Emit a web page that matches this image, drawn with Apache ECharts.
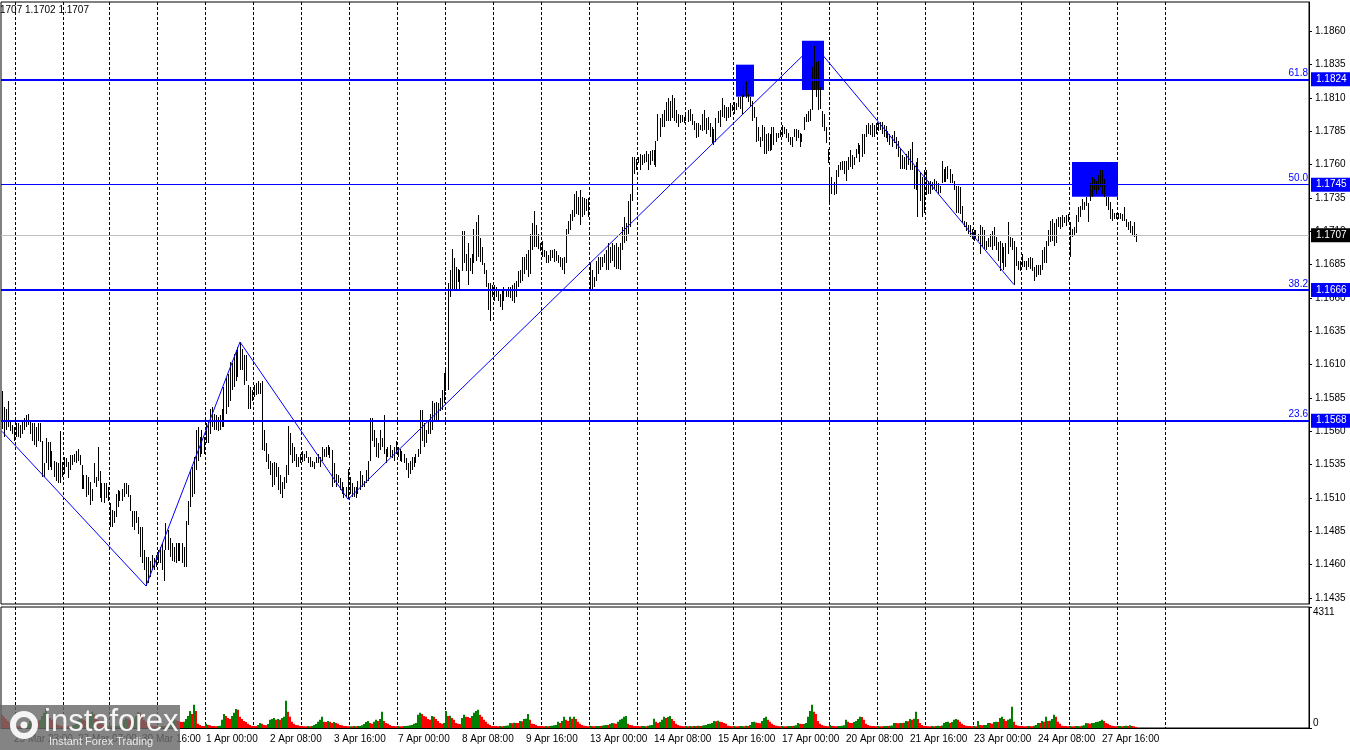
<!DOCTYPE html>
<html><head><meta charset="utf-8">
<script src="https://cdn.jsdelivr.net/npm/echarts@6/dist/echarts.min.js"></script>
<style>html,body{margin:0;padding:0;background:#fff}#c{width:1350px;height:750px}</style>
</head><body><div id="c"></div>
<script>
// ---- trading sessions (day, first hour, end hour) for H1 categories ----
const sessionDays = [
  ['25 Mar',17,24],['26 Mar',0,24],['27 Mar',0,23],['30 Mar',0,24],['31 Mar',0,24],['1 Apr',0,24],['2 Apr',0,24],['3 Apr',0,24],
  ['6 Apr',0,24],['7 Apr',0,24],['8 Apr',0,24],['9 Apr',0,24],['10 Apr',0,24],['13 Apr',0,24],['14 Apr',0,24],['15 Apr',0,24],
  ['16 Apr',0,24],['17 Apr',0,24],['20 Apr',0,24],['21 Apr',0,24],['22 Apr',0,24],['23 Apr',0,24],['24 Apr',0,24],['27 Apr',0,24],
  ['28 Apr',0,24],['29 Apr',0,24],['30 Apr',0,24],['1 May',0,24]
];
const separatorDays = ['26 Mar','27 Mar','30 Mar','31 Mar','1 Apr','2 Apr','3 Apr','6 Apr','7 Apr','8 Apr','9 Apr','10 Apr',
  '13 Apr','14 Apr','15 Apr','16 Apr','17 Apr','20 Apr','21 Apr','22 Apr','23 Apr','24 Apr','27 Apr','28 Apr','29 Apr'];
const dateLabels = ['25 Mar 23:00','27 Mar 07:00','30 Mar 16:00','1 Apr 00:00','2 Apr 08:00','3 Apr 16:00','7 Apr 00:00','8 Apr 08:00',
  '9 Apr 16:00','13 Apr 00:00','14 Apr 08:00','15 Apr 16:00','17 Apr 00:00','20 Apr 08:00','21 Apr 16:00','23 Apr 00:00','24 Apr 08:00','27 Apr 16:00'];

// ---- H1 bar highs / lows ----
const highs = [
1.1590,1.1578,1.1577,1.1583,1.1568,1.1565,1.1563,1.1566,1.1566,1.1565,1.1567,1.1570,1.1572,1.1573,1.1567,1.1566,1.1566,1.1563,1.1566,1.1566,
1.1553,1.1536,1.1555,1.1552,1.1552,1.1545,1.1538,1.1537,1.1536,1.1560,1.1537,1.1541,1.1540,1.1537,1.1542,1.1542,1.1543,1.1545,1.1547,1.1542,
1.1535,1.1527,1.1527,1.1526,1.1522,1.1517,1.1536,1.1526,1.1548,1.1530,1.1521,1.1521,1.1521,1.1518,1.1506,1.1501,1.1500,1.1513,1.1516,1.1515,
1.1517,1.1521,1.1521,1.1520,1.1512,1.1500,1.1500,1.1500,1.1496,1.1488,1.1488,1.1471,1.1466,1.1466,1.1463,1.1467,1.1465,1.1467,1.1471,1.1473,
1.1476,1.1471,1.1491,1.1486,1.1480,1.1476,1.1473,1.1476,1.1476,1.1476,1.1476,1.1473,1.1493,1.1508,1.1531,1.1533,1.1541,1.1561,1.1563,1.1556,
1.1561,1.1556,1.1566,1.1568,1.1577,1.1578,1.1573,1.1572,1.1571,1.1572,1.1577,1.1593,1.1600,1.1603,1.1612,1.1611,1.1618,1.1621,1.1623,1.1627,
1.1622,1.1617,1.1617,1.1595,1.1593,1.1591,1.1595,1.1596,1.1598,1.1596,1.1598,1.1561,1.1551,1.1543,1.1538,1.1536,1.1537,1.1536,1.1533,1.1527,
1.1522,1.1526,1.1535,1.1564,1.1559,
1.1551,1.1548,1.1543,1.1541,1.1543,1.1545,1.1543,1.1545,1.1541,1.1541,1.1538,1.1537,1.1541,1.1543,1.1541,1.1548,1.1547,1.1548,1.1550,1.1548,
1.1546,1.1536,1.1528,1.1527,1.1525,1.1522,1.1518,1.1518,1.1532,1.1526,1.1521,1.1518,1.1518,1.1523,1.1530,1.1527,1.1523,1.1531,1.1538,1.1570,
1.1570,1.1561,1.1555,1.1551,1.1561,1.1555,1.1572,1.1547,1.1548,1.1550,1.1546,1.1548,1.1553,1.1548,1.1547,1.1545,1.1543,1.1540,1.1536,1.1538,
1.1541,1.1541,1.1543,1.1547,1.1576,1.1576,1.1566,1.1561,1.1568,1.1573,1.1583,1.1581,1.1582,1.1581,1.1585,1.1591,1.1604,1.1606,1.1671,1.1681,
1.1697,1.1690,1.1683,1.1682,1.1681,1.1710,1.1710,1.1693,1.1701,1.1690,1.1693,1.1712,1.1717,1.1722,1.1705,1.1698,1.1686,1.1681,1.1671,1.1671,
1.1670,1.1670,1.1668,1.1666,1.1663,1.1666,1.1668,1.1667,1.1668,1.1668,1.1670,1.1671,1.1673,1.1680,1.1681,1.1691,1.1691,1.1693,1.1696,1.1708,
1.1716,1.1725,1.1715,1.1708,1.1701,1.1703,1.1696,1.1695,1.1692,1.1696,1.1696,1.1697,1.1695,1.1692,1.1691,1.1690,1.1691,1.1712,1.1718,1.1723,
1.1726,
1.1738,1.1740,1.1736,1.1741,1.1736,1.1735,1.1734,1.1735,
1.1686,1.1681,1.1676,1.1688,1.1691,1.1691,1.1691,1.1693,1.1696,1.1701,1.1698,1.1701,1.1700,1.1701,1.1698,1.1701,1.1713,1.1721,1.1716,1.1733,
1.1738,1.1766,1.1766,1.1764,1.1766,1.1768,1.1767,1.1768,1.1770,1.1768,1.1770,1.1771,1.1771,1.1778,1.1798,1.1795,1.1798,1.1801,1.1807,1.1810,
1.1808,1.1812,1.1810,1.1801,1.1798,1.1797,1.1797,1.1796,1.1798,1.1801,1.1802,1.1798,1.1793,1.1791,1.1791,1.1790,1.1798,1.1801,1.1795,1.1796,
1.1791,1.1788,1.1787,1.1795,1.1800,1.1801,1.1810,1.1805,1.1803,1.1803,1.1806,1.1805,1.1807,1.1806,1.1811,1.1811,1.1812,1.1819,1.1824,1.1813,
1.1811,1.1808,1.1803,1.1796,1.1788,1.1781,1.1790,1.1788,1.1783,1.1784,1.1783,1.1788,1.1788,1.1784,1.1784,1.1786,1.1790,1.1788,1.1787,1.1784,
1.1781,1.1781,1.1787,1.1787,1.1786,1.1784,1.1783,1.1796,1.1798,1.1800,1.1802,1.1833,1.1850,1.1837,1.1838,1.1818,1.1800,1.1798,1.1788,1.1772,
1.1756,1.1751,1.1747,1.1756,1.1760,1.1762,1.1763,1.1763,1.1763,1.1766,1.1771,1.1767,1.1766,1.1772,1.1776,1.1775,1.1783,1.1783,1.1790,1.1791,
1.1790,1.1791,1.1790,1.1791,1.1791,1.1792,
1.1792,1.1790,1.1789,1.1785,1.1783,1.1782,1.1785,1.1781,1.1778,1.1772,1.1767,1.1766,1.1768,1.1770,1.1772,1.1777,1.1759,1.1762,1.1765,1.1754,
1.1751,1.1756,1.1756,1.1748,1.1748,1.1747,1.1749,1.1748,1.1746,1.1744,1.1763,1.1757,1.1758,1.1759,1.1757,1.1753,1.1748,1.1744,1.1744,1.1743,
1.1729,1.1718,1.1717,1.1715,1.1715,1.1712,1.1711,1.1711,1.1708,1.1715,1.1713,1.1711,1.1703,1.1705,1.1708,1.1710,1.1713,1.1706,1.1702,1.1703,
1.1701,1.1698,1.1701,1.1717,1.1706,1.1705,1.1703,1.1698,1.1688,1.1688,1.1693,1.1688,1.1688,1.1690,1.1691,1.1690,1.1683,1.1685,1.1685,1.1685,
1.1696,1.1698,1.1703,1.1711,1.1718,1.1719,1.1716,1.1719,1.1721,1.1721,1.1722,1.1721,1.1722,1.1723,1.1717,1.1712,1.1713,1.1722,1.1728,1.1729,
1.1734,1.1732,1.1736,1.1731,1.1746,1.1751,1.1749,1.1748,1.1752,1.1756,1.1756,1.1749,1.1736,1.1736,1.1732,1.1727,1.1724,1.1724,1.1724,1.1724,
1.1723,1.1728,1.1719,1.1717,1.1718,1.1714,1.1717,1.1708
];
const lows = [
1.1562,1.1556,1.1561,1.1563,1.1560,1.1558,1.1553,1.1556,1.1556,1.1555,1.1558,1.1561,1.1563,1.1565,1.1558,1.1553,1.1550,1.1548,1.1553,1.1552,
1.1526,1.1526,1.1536,1.1531,1.1533,1.1531,1.1526,1.1523,1.1521,1.1521,1.1526,1.1528,1.1533,1.1525,1.1531,1.1535,1.1537,1.1536,1.1538,1.1535,
1.1517,1.1517,1.1511,1.1512,1.1505,1.1508,1.1521,1.1518,1.1523,1.1510,1.1507,1.1506,1.1510,1.1508,1.1488,1.1488,1.1491,1.1496,1.1503,1.1508,
1.1508,1.1511,1.1513,1.1511,1.1500,1.1488,1.1486,1.1491,1.1483,1.1466,1.1461,1.1456,1.1444,1.1446,1.1451,1.1456,1.1456,1.1458,1.1461,1.1461,
1.1456,1.1448,1.1471,1.1471,1.1466,1.1463,1.1462,1.1461,1.1463,1.1463,1.1461,1.1458,1.1458,1.1490,1.1503,1.1511,1.1513,1.1531,1.1538,1.1541,
1.1543,1.1543,1.1551,1.1551,1.1558,1.1563,1.1561,1.1561,1.1560,1.1561,1.1563,1.1563,1.1573,1.1578,1.1583,1.1591,1.1593,1.1598,1.1601,1.1606,
1.1606,1.1595,1.1598,1.1577,1.1577,1.1583,1.1586,1.1587,1.1588,1.1588,1.1546,1.1545,1.1537,1.1532,1.1527,1.1518,1.1520,1.1526,1.1516,1.1513,
1.1510,1.1517,1.1521,1.1527,1.1542,
1.1536,1.1538,1.1533,1.1533,1.1536,1.1537,1.1538,1.1540,1.1536,1.1533,1.1533,1.1532,1.1536,1.1536,1.1533,1.1538,1.1541,1.1541,1.1542,1.1540,
1.1518,1.1521,1.1518,1.1521,1.1516,1.1513,1.1510,1.1511,1.1509,1.1513,1.1511,1.1511,1.1510,1.1513,1.1516,1.1518,1.1518,1.1521,1.1523,1.1538,
1.1553,1.1548,1.1541,1.1540,1.1546,1.1548,1.1543,1.1536,1.1541,1.1541,1.1540,1.1538,1.1543,1.1541,1.1538,1.1537,1.1536,1.1531,1.1525,1.1528,
1.1531,1.1533,1.1536,1.1541,1.1543,1.1553,1.1548,1.1551,1.1558,1.1558,1.1561,1.1567,1.1567,1.1568,1.1575,1.1576,1.1581,1.1590,1.1591,1.1661,
1.1666,1.1667,1.1666,1.1672,1.1667,1.1680,1.1686,1.1680,1.1670,1.1680,1.1678,1.1686,1.1688,1.1691,1.1687,1.1685,1.1678,1.1668,1.1651,1.1643,
1.1661,1.1658,1.1661,1.1658,1.1653,1.1651,1.1658,1.1661,1.1661,1.1660,1.1658,1.1656,1.1661,1.1668,1.1671,1.1673,1.1678,1.1681,1.1676,1.1678,
1.1696,1.1698,1.1698,1.1697,1.1695,1.1691,1.1691,1.1686,1.1686,1.1688,1.1690,1.1687,1.1688,1.1686,1.1683,1.1681,1.1678,1.1686,1.1708,1.1711,
1.1718,
1.1721,1.1723,1.1722,1.1715,1.1721,1.1722,1.1725,1.1721,
1.1666,1.1666,1.1668,1.1673,1.1678,1.1681,1.1683,1.1686,1.1681,1.1681,1.1686,1.1688,1.1683,1.1682,1.1682,1.1681,1.1696,1.1701,1.1703,1.1708,
1.1713,1.1733,1.1753,1.1756,1.1761,1.1756,1.1760,1.1761,1.1762,1.1756,1.1760,1.1763,1.1760,1.1758,1.1778,1.1781,1.1788,1.1788,1.1793,1.1793,
1.1793,1.1795,1.1793,1.1791,1.1788,1.1791,1.1792,1.1791,1.1793,1.1792,1.1793,1.1790,1.1786,1.1780,1.1781,1.1786,1.1785,1.1786,1.1783,1.1786,
1.1781,1.1776,1.1775,1.1777,1.1791,1.1788,1.1796,1.1795,1.1793,1.1795,1.1796,1.1800,1.1798,1.1801,1.1803,1.1802,1.1798,1.1811,1.1810,1.1807,
1.1803,1.1793,1.1795,1.1777,1.1778,1.1773,1.1778,1.1768,1.1768,1.1770,1.1770,1.1771,1.1775,1.1777,1.1780,1.1781,1.1781,1.1783,1.1780,1.1777,
1.1775,1.1773,1.1781,1.1778,1.1780,1.1773,1.1777,1.1786,1.1792,1.1792,1.1793,1.1801,1.1816,1.1811,1.1801,1.1802,1.1788,1.1785,1.1776,1.1761,
1.1731,1.1738,1.1737,1.1738,1.1751,1.1756,1.1756,1.1753,1.1748,1.1756,1.1758,1.1757,1.1760,1.1765,1.1768,1.1762,1.1766,1.1768,1.1781,1.1783,
1.1782,1.1781,1.1781,1.1783,1.1785,1.1786,
1.1783,1.1781,1.1780,1.1777,1.1775,1.1773,1.1776,1.1772,1.1766,1.1757,1.1757,1.1757,1.1756,1.1760,1.1756,1.1756,1.1742,1.1741,1.1721,1.1733,
1.1721,1.1724,1.1737,1.1738,1.1738,1.1741,1.1742,1.1740,1.1738,1.1739,1.1746,1.1747,1.1747,1.1749,1.1746,1.1746,1.1741,1.1724,1.1724,1.1723,
1.1716,1.1713,1.1710,1.1708,1.1706,1.1704,1.1703,1.1704,1.1703,1.1693,1.1698,1.1697,1.1696,1.1698,1.1698,1.1696,1.1699,1.1696,1.1688,1.1680,
1.1686,1.1681,1.1683,1.1693,1.1698,1.1696,1.1670,1.1684,1.1681,1.1680,1.1683,1.1683,1.1681,1.1683,1.1682,1.1680,1.1673,1.1676,1.1677,1.1677,
1.1681,1.1686,1.1686,1.1699,1.1702,1.1703,1.1699,1.1701,1.1713,1.1712,1.1713,1.1716,1.1714,1.1717,1.1691,1.1706,1.1707,1.1709,1.1717,1.1721,
1.1726,1.1726,1.1729,1.1717,1.1733,1.1736,1.1741,1.1738,1.1741,1.1743,1.1738,1.1736,1.1729,1.1726,1.1719,1.1718,1.1719,1.1719,1.1719,1.1719,
1.1718,1.1718,1.1713,1.1711,1.1709,1.1707,1.1706,1.1702
];
// ---- tick volumes ----
const volumes = [
470,400,320,250,180,110,70,
70,65,60,75,80,110,140,250,360,320,290,250,290,430,540,680,500,360,290,220,150,110,80,70,
75,70,60,65,80,110,150,290,400,330,290,250,320,470,580,500,400,290,220,150,110,80,70,
110,75,65,70,80,110,140,290,360,320,290,290,330,430,570,540,400,290,220,180,110,80,70,65,
70,65,70,60,75,110,150,250,320,290,250,220,210,220,320,430,610,500,830,610,150,110,75,70,
150,110,100,75,70,65,70,80,290,500,430,360,320,430,540,680,650,400,320,250,210,150,110,75,
75,70,110,180,150,110,100,140,290,320,360,290,320,290,360,400,970,580,400,220,150,110,100,70,
70,65,60,70,65,75,110,140,220,290,400,220,210,250,220,180,210,180,150,110,100,75,70,60,
65,60,70,65,70,75,100,140,210,250,180,150,220,290,250,320,580,250,180,150,110,75,70,65,
70,65,60,70,75,80,100,110,150,180,470,540,500,430,400,320,290,430,400,320,250,180,150,180,
610,430,440,360,290,180,150,140,360,470,400,390,360,430,540,610,650,470,400,290,220,150,110,75,
75,70,65,70,60,75,80,85,180,170,190,180,175,250,240,320,330,500,290,150,140,110,75,70,
70,65,70,60,75,80,100,110,220,180,250,400,290,250,400,330,400,320,220,150,110,80,70,65,
80,70,65,70,75,70,80,100,110,105,140,180,170,150,220,290,330,400,430,150,110,100,75,70,
70,65,70,75,60,80,100,110,330,220,180,210,290,400,360,390,430,320,250,150,110,80,70,65,
70,65,70,60,75,70,80,75,80,100,110,140,150,180,250,240,260,220,210,180,150,80,70,65,
70,65,60,70,75,65,80,75,110,210,220,200,180,170,250,360,400,290,220,150,110,80,70,65,
70,65,60,70,75,70,80,100,180,150,140,145,180,400,610,830,580,500,250,150,110,80,70,60,
110,75,70,65,70,75,80,100,290,220,180,175,210,250,320,400,390,290,150,110,80,75,70,65,
70,65,60,70,75,70,80,85,180,175,170,180,175,190,250,240,320,290,330,580,320,180,110,75,
70,65,60,70,65,75,80,70,85,180,210,220,180,210,290,320,290,220,150,110,80,75,70,60,
70,65,250,110,100,105,110,180,175,150,210,220,215,360,400,320,250,290,330,760,220,110,80,70,
70,65,60,75,70,65,80,110,180,175,250,220,400,250,260,320,470,400,220,150,80,75,70,65,
70,65,60,70,75,65,80,100,180,170,150,175,180,210,220,250,290,250,180,150,110,80,70,65,
70,75,65,70,80,75,100,70,65,40
];
const volumeMaxLabel = 4311;
const priceTicks = [1.1435,1.1460,1.1485,1.1510,1.1535,1.1560,1.1585,1.1610,1.1635,1.1660,1.1685,1.1710,1.1735,1.1760,1.1785,1.1810,1.1835,1.1860];
const priceMin = 1.14305, priceMax = 1.18820;
const fiboLevels = [1.1824, 1.1745, 1.1666, 1.1568];
const fiboNames = ['61.8', '50.0', '38.2', '23.6'];
const currentPrice = 1.1707;
const headerText = '1707 1.1702 1.1707';
// trend lines through pivots: [bar index, price]
const trendPoints = [[0,1.1560],[72,1.1444],[119,1.1627],[173,1.1509],[406,1.1850],[506,1.1670]];
// blue zones: [from bar, to bar, low price, high price]
const zones = [[367,376,1.1811,1.1835],[400,411,1.1816,1.1853],[535,558,1.1736,1.1762]];

// ---- build categories ----
const categories = [], dayStart = new Set();
sessionDays.forEach(([d, h0, h1]) => {
  for (let h = h0; h < h1; h++) {
    if (h === 0 && separatorDays.includes(d)) dayStart.add(categories.length);
    categories.push(d + ' ' + String(h).padStart(2, '0') + ':00');
  }
});
const labelSet = new Set(dateLabels.map(l => categories.indexOf(l)));
const barData = highs.map((h, i) => [i, h, lows[i]]);
const volData = volumes.map((v, i) => ({ value: v, itemStyle: { color: (i > 0 && v > volumes[i - 1]) ? '#008000' : '#ff0000' } }));

const FONT = "'Liberation Sans', sans-serif";
const FS = 10;
const BLUE = '#0000ff';

const levelLines = [];
fiboLevels.forEach((v, k) => {
  levelLines.push({ yAxis: v, lineStyle: { color: BLUE, width: k === 1 ? 1 : 2, type: 'solid' },
    label: { show: true, position: 'end', distance: 2, formatter: v.toFixed(4), color: '#fff', backgroundColor: BLUE,
      padding: [2, 4, 1, 5], lineHeight: 11, fontSize: FS, fontFamily: FONT } });
  levelLines.push({ yAxis: v, lineStyle: { color: 'rgba(0,0,0,0)', width: 1 },
    label: { show: true, position: 'insideEndTop', distance: 1, formatter: fiboNames[k], color: BLUE, fontSize: FS, fontFamily: FONT } });
});
levelLines.push({ yAxis: currentPrice, lineStyle: { color: '#c0c0c0', width: 1, type: 'solid' },
  label: { show: true, position: 'end', distance: 2, formatter: currentPrice.toFixed(4), color: '#fff', backgroundColor: '#000',
    padding: [2, 4, 1, 5], lineHeight: 11, fontSize: FS, fontFamily: FONT } });

const chart = echarts.init(document.getElementById('c'), null, { renderer: 'canvas' });
chart.setOption({
  animation: false,
  backgroundColor: '#fff',
  textStyle: { fontFamily: FONT },
  grid: [
    { left: 1, top: 2, width: 1308, height: 602, show: true, borderColor: '#000', borderWidth: 1 },
    { left: 1, top: 607, width: 1308, height: 121, show: true, borderColor: '#000', borderWidth: 1 }
  ],
  xAxis: [
    { type: 'category', gridIndex: 0, data: categories, boundaryGap: true,
      axisLine: { show: false }, axisTick: { show: false }, axisLabel: { show: false },
      splitLine: { show: true, interval: (i) => dayStart.has(i), lineStyle: { color: '#000', width: 1, type: [3, 2] } } },
    { type: 'category', gridIndex: 1, data: categories, boundaryGap: true,
      axisLine: { show: true, lineStyle: { color: '#000' } }, axisTick: { show: false },
      axisLabel: { show: true, interval: (i) => labelSet.has(i), align: 'left', color: '#000', fontSize: FS, fontFamily: FONT, margin: 6 },
      splitLine: { show: true, interval: (i) => dayStart.has(i), lineStyle: { color: '#000', width: 1, type: [3, 2] } } }
  ],
  yAxis: [
    { type: 'value', gridIndex: 0, position: 'right', min: priceMin, max: priceMax, scale: true,
      axisLine: { show: true, lineStyle: { color: '#000' } },
      axisTick: { show: true, length: 3, customValues: priceTicks, lineStyle: { color: '#000' } },
      axisLabel: { show: true, customValues: priceTicks, formatter: v => v.toFixed(4), color: '#000', fontSize: FS, fontFamily: FONT, margin: 6 },
      splitLine: { show: false } },
    { type: 'value', gridIndex: 1, position: 'right', min: 0, max: volumeMaxLabel, interval: volumeMaxLabel,
      axisLine: { show: true, lineStyle: { color: '#000' } },
      axisTick: { show: true, length: 3, lineStyle: { color: '#000' } },
      axisLabel: { show: true, formatter: v => String(v), color: '#000', fontSize: FS, fontFamily: FONT, margin: 4,
        verticalAlignMaxLabel: 'top', verticalAlignMinLabel: 'bottom' },
      splitLine: { show: false } }
  ],
  graphic: [
    { type: 'text', left: 0, top: 5, z: 100, style: { text: headerText, fill: '#000', font: "10px 'Liberation Sans', sans-serif" } },
    { type: 'group', left: 0, top: 705, z: 100, children: [
      { type: 'rect', z: 100, shape: { x: 0, y: 0, width: 180, height: 45 }, style: { fill: 'rgba(105,105,105,0.82)' } },
      { type: 'circle', z: 101, shape: { cx: 24, cy: 20, r: 11 }, style: { fill: 'none', stroke: '#f4f4f4', lineWidth: 6 } },
      { type: 'circle', z: 101, shape: { cx: 24, cy: 20, r: 3.5 }, style: { fill: '#f4f4f4' } },
      { type: 'text', z: 101, x: 44, y: 2, style: { text: 'instaforex', fill: '#f4f4f4', font: "31px 'Liberation Sans', sans-serif" } },
      { type: 'text', z: 101, x: 49, y: 31, style: { text: 'Instant Forex Trading', fill: '#eaeaea', font: "11px 'Liberation Sans', sans-serif" } }
    ] }
  ],
  series: [
    { type: 'custom', name: 'bars', xAxisIndex: 0, yAxisIndex: 0, data: barData, encode: { x: 0, y: [1, 2] }, z: 2, silent: true,
      renderItem: (params, api) => {
        const i = api.value(0);
        const p1 = api.coord([i, api.value(1)]);
        const p2 = api.coord([i, api.value(2)]);
        const top = Math.round(p1[1]);
        return { type: 'rect', shape: { x: Math.floor(p1[0]), y: top, width: 1, height: Math.max(1, Math.round(p2[1]) - top) },
          style: { fill: '#000' } };
      },
      markArea: { silent: true, itemStyle: { color: BLUE, opacity: 1 },
        data: zones.map(z => [{ xAxis: z[0], yAxis: z[3] }, { xAxis: z[1], yAxis: z[2] }]) } },
    { type: 'line', name: 'trend', xAxisIndex: 0, yAxisIndex: 0, data: trendPoints, symbol: 'none', silent: true, z: 3,
      lineStyle: { color: BLUE, width: 1 } },
    { type: 'line', name: 'levels', xAxisIndex: 0, yAxisIndex: 0, data: [], silent: true,
      markLine: { silent: true, symbol: ['none', 'none'], precision: 4, data: levelLines } },
    { type: 'bar', name: 'volume', xAxisIndex: 1, yAxisIndex: 1, data: volData, barWidth: 2, barCategoryGap: '0%', silent: true }
  ]
});
</script></body></html>
